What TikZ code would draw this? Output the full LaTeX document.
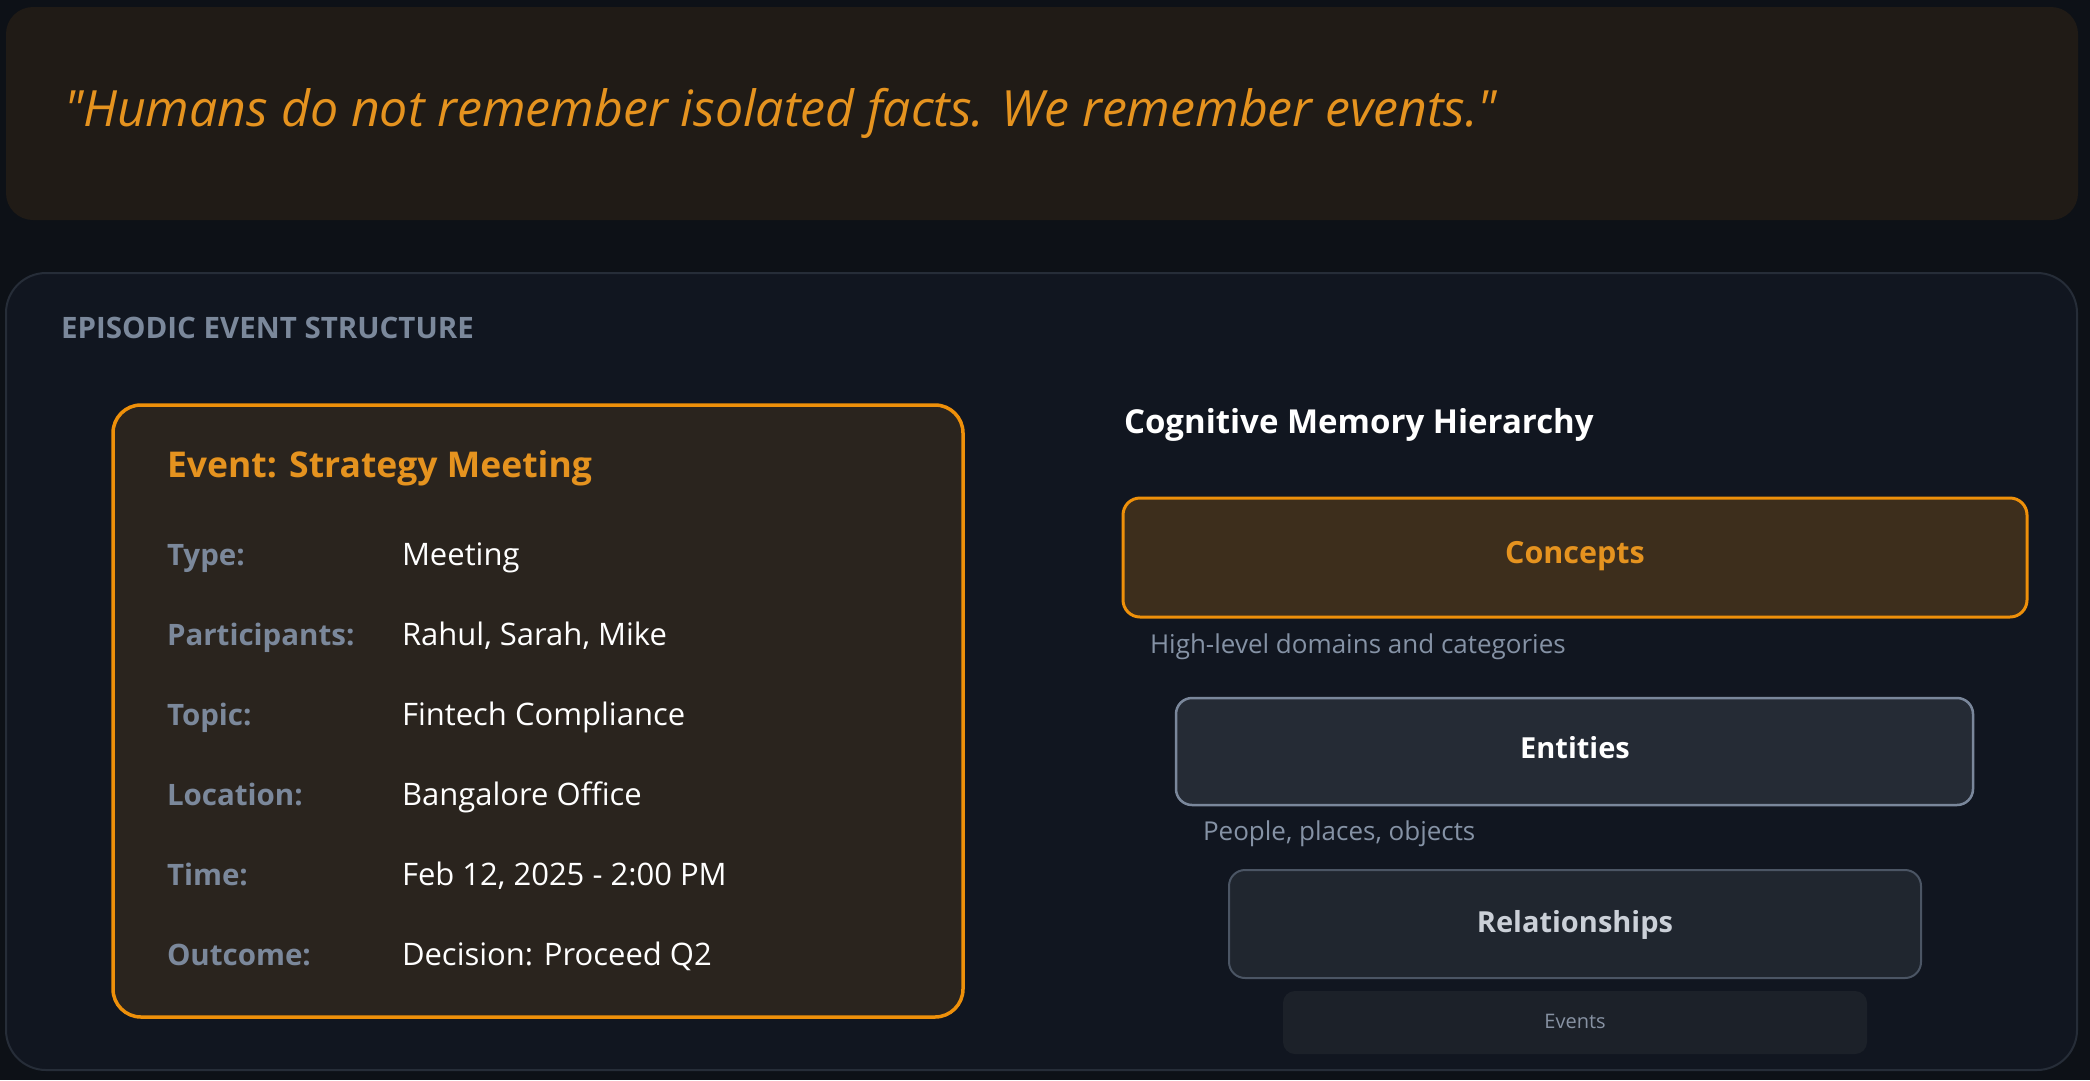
\documentclass[tikz,border=0pt]{standalone}
\usepackage{fontspec}
\setmainfont{Open Sans}
\newfontfamily\quotefont{Open Sans}[Ligatures=TeXOff]
\definecolor{bgc}{HTML}{0D1117}
\definecolor{quotefill}{HTML}{201B16}
\definecolor{panelfill}{HTML}{111620}
\definecolor{panelline}{HTML}{262D38}
\definecolor{orangeline}{HTML}{EE900A}
\definecolor{orangetext}{HTML}{E5931F}
\definecolor{cardfill}{HTML}{2A241E}
\definecolor{conceptfill}{HTML}{3D2E1C}
\definecolor{labelgray}{HTML}{7B889B}
\definecolor{descgray}{HTML}{8592A5}
\definecolor{entfill}{HTML}{252B35}
\definecolor{entline}{HTML}{7A879B}
\definecolor{relfill}{HTML}{20262F}
\definecolor{relline}{HTML}{4B5564}
\definecolor{reltext}{HTML}{CBD0D8}
\definecolor{evfill}{HTML}{1C2129}
\definecolor{evtext}{HTML}{8792A3}
\tikzset{
  panelbox/.style={draw, rectangle, inner sep=0pt, outer sep=0pt},
  lefttxt/.style={anchor=base west, inner sep=0pt, outer sep=0pt},
  midtxt/.style={anchor=base, inner sep=0pt, outer sep=0pt},
  fieldlabel/.style={lefttxt, text=labelgray, font=\fontsize{29.5}{35}\selectfont\bfseries},
  fieldvalue/.style={lefttxt, text=white, font=\fontsize{31}{37}\selectfont},
  desc/.style={lefttxt, text=descgray, font=\fontsize{26}{31}\selectfont}
}
\begin{document}
\begin{tikzpicture}[x=1pt,y=-1pt]
\fill[bgc] (0,0) rectangle (2090,1080);
\useasboundingbox (0,0) rectangle (2090,1080);

% quote banner
\node[panelbox, draw=none, fill=quotefill, rounded corners=27pt, minimum width=2072pt, minimum height=213pt] (quote) at (1042,113.5) {};
\node[lefttxt, text=orangetext, font=\quotefont\fontsize{50}{60}\selectfont\itshape] (quotetext) at (64,126) {"Humans do not remember isolated facts. We remember events."};

% main panel
\node[panelbox, draw=panelline, line width=2pt, fill=panelfill, rounded corners=40pt, minimum width=2071pt, minimum height=797pt] (panel) at (1041.5,671.5) {};
\node[lefttxt, text=labelgray, font=\fontsize{29.5}{35}\selectfont\bfseries] (paneltitle) at (61,338) {EPISODIC EVENT STRUCTURE};

% event card
\node[panelbox, draw=orangeline, line width=3.5pt, fill=cardfill, rounded corners=28pt, minimum width=850pt, minimum height=612pt] (card) at (538,711) {};
\node[lefttxt, text=orangetext, font=\fontsize{35.5}{42}\selectfont\bfseries] (cardtitle) at (167,477) {Event: Strategy Meeting};

\node[fieldlabel] (l1) at (167,565) {Type:};
\node[fieldvalue] (v1) at (402,565) {Meeting};
\node[fieldlabel] (l2) at (167,645) {Participants:};
\node[fieldvalue] (v2) at (402,645) {Rahul, Sarah, Mike};
\node[fieldlabel] (l3) at (167,725) {Topic:};
\node[fieldvalue] (v3) at (402,725) {Fintech Compliance};
\node[fieldlabel] (l4) at (167,805) {Location:};
\node[fieldvalue] (v4) at (402,805) {Bangalore Office};
\node[fieldlabel] (l5) at (167,885) {Time:};
\node[fieldvalue] (v5) at (402,885) {Feb 12, 2025 - 2:00 PM};
\node[fieldlabel] (l6) at (167,965) {Outcome:};
\node[fieldvalue] (v6) at (402,965) {Decision: Proceed Q2};

% hierarchy
\node[lefttxt, text=white, font=\fontsize{33}{39}\selectfont\bfseries] (hiertitle) at (1124,433) {Cognitive Memory Hierarchy};

\node[panelbox, draw=orangeline, line width=3pt, fill=conceptfill, rounded corners=17pt, minimum width=904pt, minimum height=119pt] (concepts) at (1575,557.5) {};
\node[midtxt, text=orangetext, font=\fontsize{30.5}{36}\selectfont\bfseries] (conceptstext) at (1575,563) {Concepts};
\node[desc] (conceptsdesc) at (1150,653) {High-level domains and categories};

\node[panelbox, draw=entline, line width=2.5pt, fill=entfill, rounded corners=16pt, minimum width=797pt, minimum height=107pt] (entities) at (1574.5,751.5) {};
\node[midtxt, text=white, font=\fontsize{29}{35}\selectfont\bfseries] (entitiestext) at (1575,758) {Entities};
\node[desc] (entitiesdesc) at (1203,840) {People, places, objects};

\node[panelbox, draw=relline, line width=2pt, fill=relfill, rounded corners=16pt, minimum width=692pt, minimum height=108pt] (relations) at (1575,924) {};
\node[midtxt, text=reltext, font=\fontsize{29}{35}\selectfont\bfseries] (relationstext) at (1575,932) {Relationships};

\node[panelbox, draw=none, fill=evfill, rounded corners=12pt, minimum width=584pt, minimum height=63pt] (events) at (1575,1022.5) {};
\node[midtxt, text=evtext, font=\fontsize{20}{24}\selectfont] (eventstext) at (1575,1028) {Events};
\end{tikzpicture}
\end{document}
